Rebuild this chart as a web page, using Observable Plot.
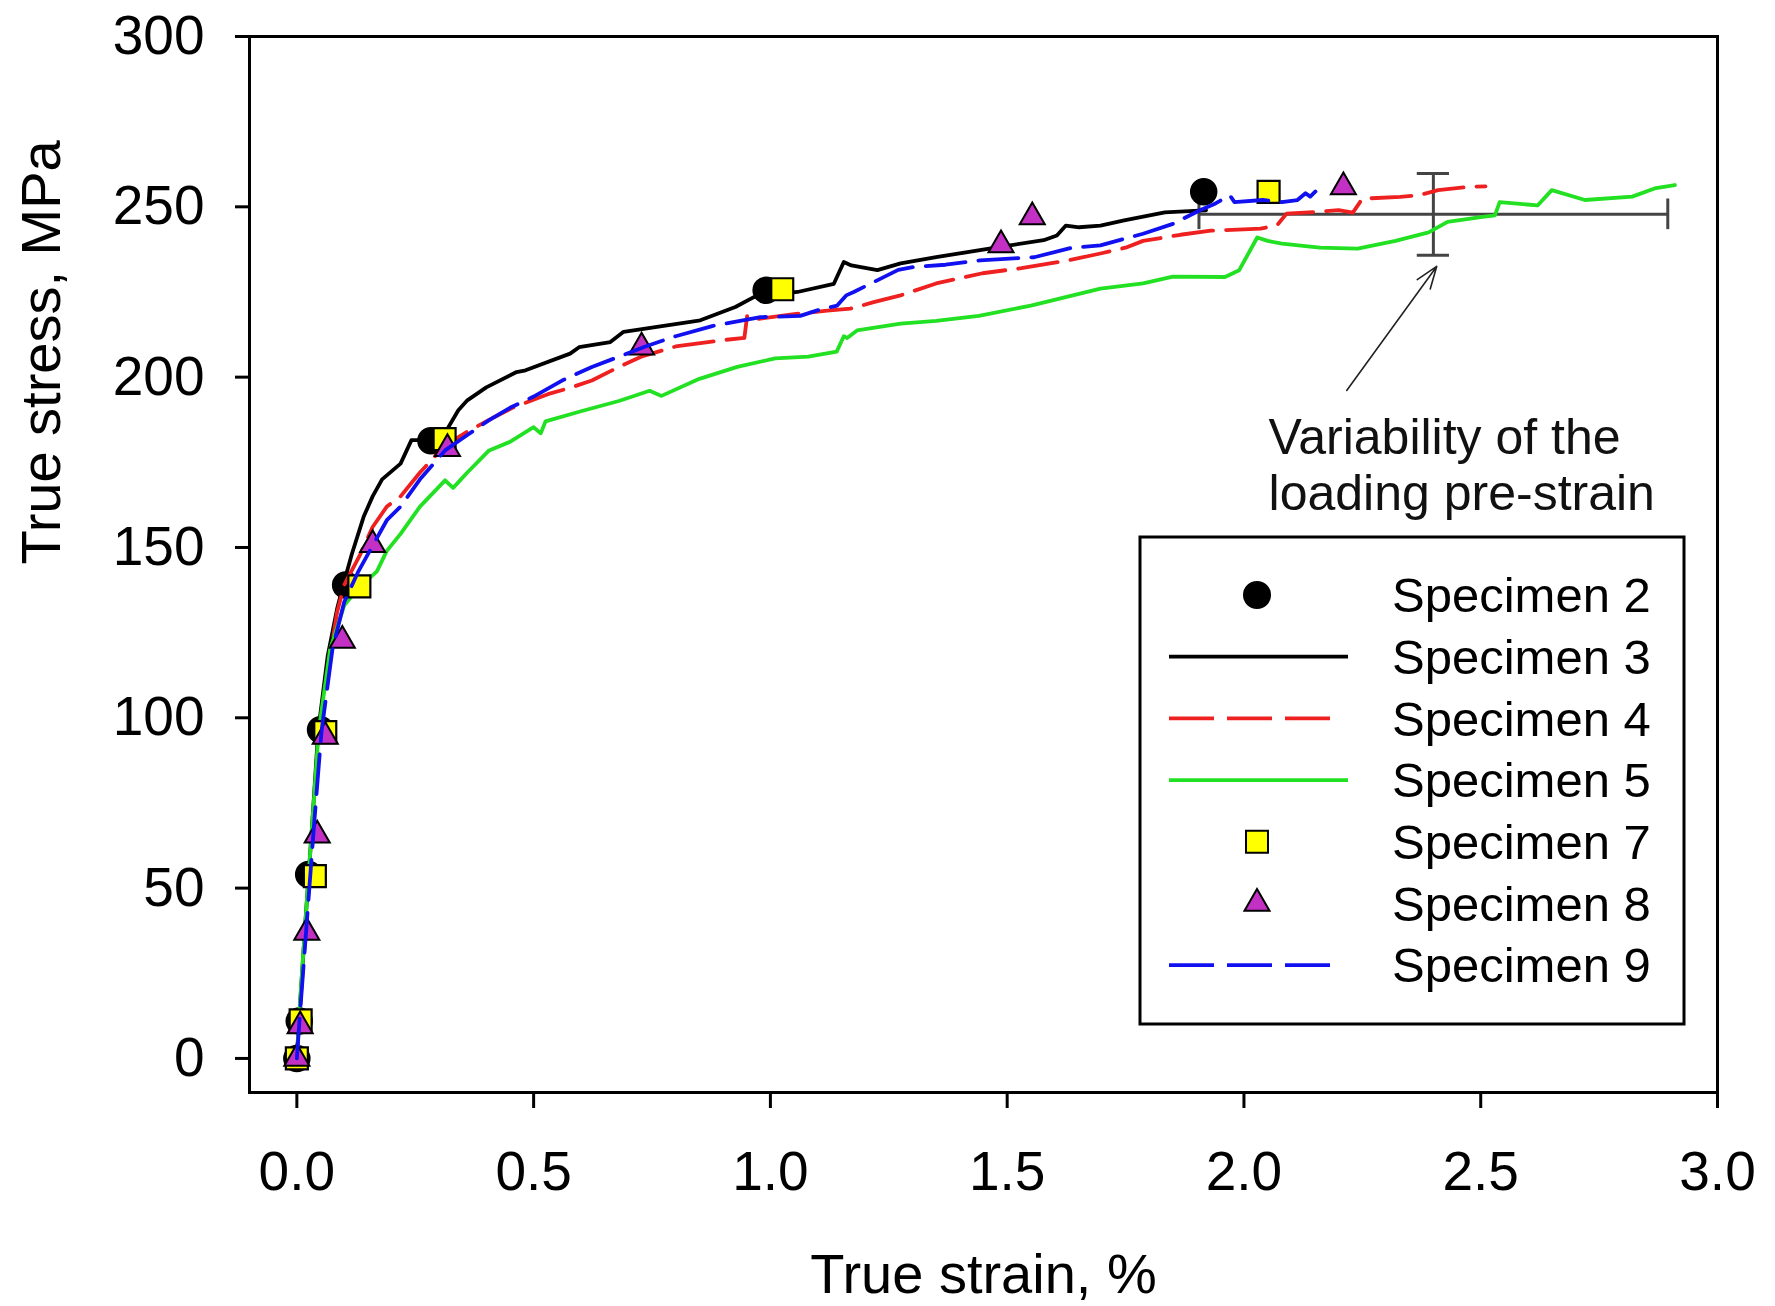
<!DOCTYPE html>
<html>
<head>
<meta charset="utf-8">
<script src="https://cdn.jsdelivr.net/npm/d3@7"></script>
<script src="https://cdn.jsdelivr.net/npm/@observablehq/plot@0.6"></script>
<style>
  html, body { margin: 0; padding: 0; background: #fff; }
  #chart svg { display: block; }
</style>
</head>
<body>
<div id="chart"></div>
<script>
// ---------- data ----------
const xTicks = [0, 0.5, 1.0, 1.5, 2.0, 2.5, 3.0];
const yTicks = [0, 50, 100, 150, 200, 250, 300];
const xLabel = "True strain, %";
const yLabel = "True stress, MPa";
const seriesNames = ["Specimen 2", "Specimen 3", "Specimen 4", "Specimen 5", "Specimen 7", "Specimen 8", "Specimen 9"];

// marker-only specimens: [strain %, stress MPa]
const specimen2 = [[0,0],[0.005,11],[0.025,54],[0.05,96.5],[0.103,139],[0.283,181.3],[0.991,225.5],[1.915,254.4]];
const specimen7 = [[0,0],[0.008,11.2],[0.038,53.5],[0.06,95.8],[0.132,138.6],[0.312,181.8],[1.025,225.8],[2.052,254.4]];
const specimen8 = [[0,0],[0.007,9.5],[0.021,37],[0.043,65.5],[0.06,94.5],[0.096,122.7],[0.16,150.8],[0.318,179],[0.728,208.8],[1.487,238.8],[1.553,247],[2.21,255.8]];

// line specimens
const specimen3 = [[0,0],[0.005,12],[0.018,40],[0.032,68],[0.045,96],[0.065,118],[0.085,132],[0.098,139],[0.116,148],[0.141,159],[0.16,165],[0.18,170],[0.219,174.6],[0.242,181.5],[0.304,181.5],[0.341,190.3],[0.36,193.2],[0.40,197],[0.464,201.5],[0.483,202],[0.577,206.9],[0.596,208.8],[0.662,210.3],[0.69,213.3],[0.852,216.7],[0.926,220.6],[0.965,223.5],[1.057,225],[1.134,227.4],[1.155,233.8],[1.171,232.8],[1.226,231.4],[1.275,233.4],[1.35,235.2],[1.482,238.2],[1.577,240.2],[1.605,241.6],[1.624,244.5],[1.652,244],[1.697,244.5],[1.747,246],[1.833,248.4],[1.906,248.9],[1.92,249]];
const specimen4 = [[0,0],[0.005,12],[0.02,40],[0.034,68],[0.05,96],[0.07,118],[0.085,131],[0.1,139],[0.134,148],[0.16,156],[0.19,162],[0.219,165],[0.26,172],[0.313,180],[0.36,184],[0.40,187],[0.455,191],[0.53,195],[0.58,197],[0.623,199],[0.68,203],[0.727,206],[0.80,209],[0.895,210.8],[0.945,211.5],[0.951,218.1],[0.97,217],[1.05,218.5],[1.12,219.5],[1.169,220.1],[1.218,222],[1.275,224],[1.35,227.5],[1.448,230.5],[1.53,232],[1.63,234.3],[1.697,236.3],[1.75,238],[1.787,240],[1.866,241.8],[1.93,243],[2.035,243.6],[2.07,244.6],[2.09,248],[2.15,248.5],[2.2,249],[2.23,248.3],[2.25,252.4],[2.33,252.9],[2.37,253.4],[2.41,254.9],[2.47,255.8],[2.51,256]];
const specimen5 = [[0,0],[0.005,13],[0.018,40],[0.032,68],[0.046,96],[0.07,120],[0.1,133],[0.13,138],[0.169,143],[0.19,149],[0.219,154],[0.26,162],[0.313,169.7],[0.33,167.5],[0.36,172],[0.406,178.5],[0.45,181],[0.5,185.3],[0.515,183.5],[0.525,187],[0.6,190],[0.68,193],[0.745,196],[0.77,194.5],[0.85,199.5],[0.93,203],[1.01,205.5],[1.08,206],[1.14,207.5],[1.155,212],[1.162,211.5],[1.183,213.7],[1.275,215.7],[1.35,216.5],[1.44,218],[1.55,221],[1.697,226],[1.787,227.5],[1.85,229.5],[1.96,229.4],[1.99,231.4],[2.028,241],[2.05,240],[2.08,239.2],[2.16,238],[2.24,237.7],[2.32,240],[2.39,242.5],[2.43,245.6],[2.5,247],[2.53,247.5],[2.54,251.4],[2.62,250.4],[2.65,254.9],[2.72,252],[2.82,253],[2.87,255.5],[2.91,256.4]];
const specimen9 = [[0,0],[0.006,12],[0.021,40],[0.036,68],[0.052,96],[0.075,120],[0.1,134],[0.13,143],[0.162,151],[0.19,158],[0.219,162],[0.26,170],[0.313,178.5],[0.36,183],[0.406,187.4],[0.45,191],[0.5,194.3],[0.56,199],[0.623,203],[0.68,206],[0.736,209],[0.80,212],[0.877,215],[0.979,217.6],[1.063,218],[1.099,219.6],[1.141,221],[1.16,224],[1.176,225],[1.27,231.5],[1.302,232.3],[1.37,233],[1.443,234.3],[1.557,235.2],[1.637,238],[1.697,238.7],[1.787,242.1],[1.85,245],[1.907,249],[1.94,251],[1.97,253.4],[1.98,251.4],[2.04,252],[2.08,251.4],[2.113,252],[2.13,254],[2.14,253],[2.162,256]];

// variability of the loading pre-strain (error bars)
const prestrainCenter = 2.4;
const prestrainHalfRange = 0.495;
const prestrainStress = 247.8;
const prestrainStressHalfRange = 12;
const annotationText = "Variability of the\nloading pre-strain";
const annotationAnchor = [2.052, 174.4];
const annotationArrow = [2.217, 196.1, 2.407, 232.5];

// ---------- styles ----------
const FONT = "'Liberation Sans', Arial, Helvetica, sans-serif";
const C = {black: "#000000", red: "#ee2020", green: "#22e022", blue: "#1010f0", yellow: "#ffff00", magenta: "#c230c4", bar: "#444444"};
const DASH = "40,13";
const LW = 3.8;
const rows = a => a.map(([x, y]) => ({x, y}));

const chart = Plot.plot({
  width: 1775,
  height: 1306,
  marginLeft: 249,
  marginRight: 58,
  marginTop: 36,
  marginBottom: 214,
  style: {fontFamily: FONT, fontSize: "55px", background: "#fff", color: "#000", overflow: "visible"},
  x: {domain: [-0.1, 3.0]},
  y: {domain: [-10, 300]},
  marks: [
    Plot.axisX({ticks: xTicks, tickSize: 16, tickPadding: 42, tickFormat: d3.format(".1f"), label: null, strokeWidth: 3, fontSize: 55}),
    Plot.axisY({ticks: yTicks, tickSize: 14, tickPadding: 31, tickFormat: d3.format("d"), label: null, strokeWidth: 3, fontSize: 55}),
    Plot.text([xLabel], {frameAnchor: "bottom", dy: 183, text: d => d, lineAnchor: "middle", fontSize: 56}),
    Plot.text([yLabel], {frameAnchor: "left", dx: -207, rotate: -90, text: d => d, lineAnchor: "middle", fontSize: 56}),

    // error bars
    Plot.ruleY([prestrainStress], {x1: prestrainCenter - prestrainHalfRange, x2: prestrainCenter + prestrainHalfRange, stroke: C.bar, strokeWidth: 3}),
    Plot.ruleX([prestrainCenter - prestrainHalfRange, prestrainCenter + prestrainHalfRange], {y1: prestrainStress - 4.5, y2: prestrainStress + 4.5, stroke: C.bar, strokeWidth: 3}),
    Plot.ruleX([prestrainCenter], {y1: prestrainStress - prestrainStressHalfRange, y2: prestrainStress + prestrainStressHalfRange, stroke: C.bar, strokeWidth: 3}),
    Plot.ruleY([prestrainStress - prestrainStressHalfRange, prestrainStress + prestrainStressHalfRange], {x1: prestrainCenter - 0.034, x2: prestrainCenter + 0.034, stroke: C.bar, strokeWidth: 3}),

    // series, in legend order
    Plot.dot(rows(specimen2), {x: "x", y: "y", r: 13, symbol: "circle", fill: C.black, stroke: C.black, strokeWidth: 1.5}),
    Plot.line(rows(specimen3), {x: "x", y: "y", stroke: C.black, strokeWidth: LW, strokeLinejoin: "round"}),
    Plot.line(rows(specimen4), {x: "x", y: "y", stroke: C.red, strokeWidth: LW, strokeDasharray: DASH}),
    Plot.line(rows(specimen5), {x: "x", y: "y", stroke: C.green, strokeWidth: LW, strokeLinejoin: "round"}),
    Plot.dot(rows(specimen7), {x: "x", y: "y", r: 12.4, symbol: "square", fill: C.yellow, stroke: C.black, strokeWidth: 2.2}),
    Plot.dot(rows(specimen8), {x: "x", y: "y", r: 9.3, symbol: "triangle", fill: C.magenta, stroke: C.black, strokeWidth: 2}),
    Plot.line(rows(specimen9), {x: "x", y: "y", stroke: C.blue, strokeWidth: LW, strokeDasharray: DASH}),

    // annotation
    Plot.arrow([annotationArrow], {x1: d => d[0], y1: d => d[1], x2: d => d[2], y2: d => d[3], stroke: "#222", strokeWidth: 1.6, headLength: 22, headAngle: 40, insetStart: 0, insetEnd: 0}),
    Plot.text([annotationText], {x: annotationAnchor[0], y: annotationAnchor[1], text: d => d, textAnchor: "start", lineAnchor: "middle", lineHeight: 1.12, fontSize: 50, fill: "#111"}),

    Plot.frame({stroke: C.black, strokeWidth: 3})
  ]
});
document.getElementById("chart").append(chart);

// ---------- legend (boxed, inside the plot area) ----------
const legendItems = [
  {name: seriesNames[0], kind: "circle", fill: C.black},
  {name: seriesNames[1], kind: "line", stroke: C.black},
  {name: seriesNames[2], kind: "dash", stroke: C.red},
  {name: seriesNames[3], kind: "line", stroke: C.green},
  {name: seriesNames[4], kind: "square", fill: C.yellow},
  {name: seriesNames[5], kind: "triangle", fill: C.magenta},
  {name: seriesNames[6], kind: "dash", stroke: C.blue}
];
const L = {x: 1140, y: 537, w: 544, h: 487, row0: 595, step: 61.7, symX: 1257, lineX1: 1169, lineX2: 1348, dashX2: 1331, textX: 1392, fontSize: 49};
const svg = d3.select(chart);
const lg = svg.append("g").attr("font-family", FONT).attr("text-anchor", "start");
lg.append("rect").attr("x", L.x).attr("y", L.y).attr("width", L.w).attr("height", L.h)
  .attr("fill", "#fff").attr("stroke", "#000").attr("stroke-width", 3);
legendItems.forEach((it, i) => {
  const cy = L.row0 + i * L.step;
  if (it.kind === "line" || it.kind === "dash") {
    const dashed = it.kind === "dash";
    lg.append("line").attr("x1", L.lineX1).attr("x2", dashed ? L.dashX2 : L.lineX2).attr("y1", cy).attr("y2", cy)
      .attr("stroke", it.stroke).attr("stroke-width", LW)
      .attr("stroke-dasharray", dashed ? "45,13" : null);
  } else {
    const sym = it.kind === "circle" ? d3.symbolCircle : it.kind === "square" ? d3.symbolSquare : d3.symbolTriangle;
    const r = it.kind === "circle" ? 13 : it.kind === "square" ? 12.4 : 9.3;
    lg.append("path").attr("transform", `translate(${L.symX},${cy})`)
      .attr("d", d3.symbol(sym, Math.PI * r * r)())
      .attr("fill", it.fill).attr("stroke", "#000").attr("stroke-width", 2);
  }
  lg.append("text").attr("x", L.textX).attr("y", cy).attr("dy", "0.35em").attr("text-anchor", "start")
    .attr("font-size", L.fontSize).attr("fill", "#000").text(it.name);
});
</script>
</body>
</html>
